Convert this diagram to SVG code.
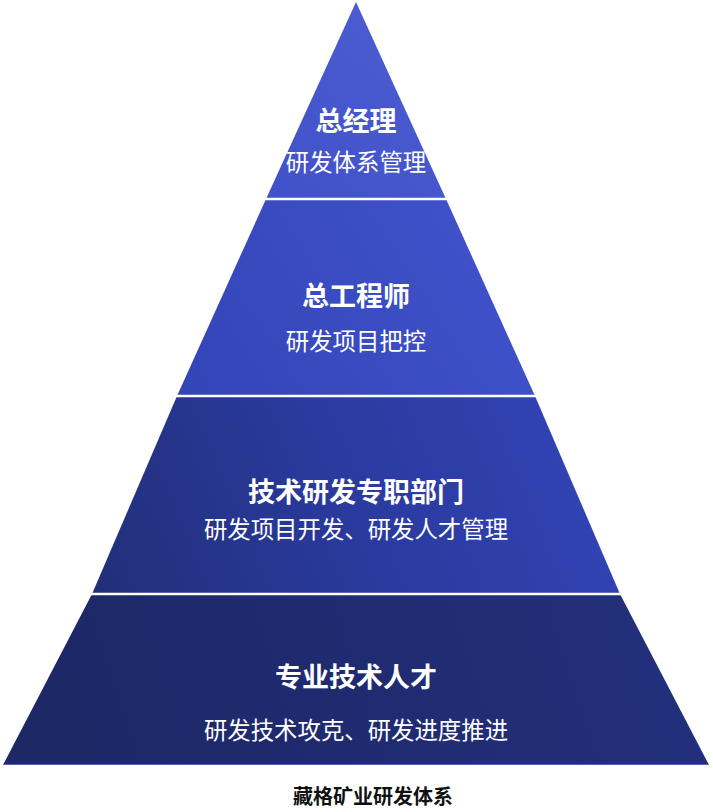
<svg xmlns="http://www.w3.org/2000/svg" width="713" height="812" viewBox="0 0 713 812">
<defs>
<linearGradient id="g1" gradientUnits="userSpaceOnUse" x1="420" y1="20" x2="280" y2="199">
<stop offset="0" stop-color="#4c5dd2"/>
<stop offset="1" stop-color="#4152c8"/>
</linearGradient>
<linearGradient id="g2" gradientUnits="userSpaceOnUse" x1="500" y1="200" x2="200" y2="396">
<stop offset="0" stop-color="#4153cb"/>
<stop offset="1" stop-color="#3445b8"/>
</linearGradient>
<linearGradient id="g3" gradientUnits="userSpaceOnUse" x1="580" y1="400" x2="120" y2="594">
<stop offset="0" stop-color="#3244b6"/>
<stop offset="0.5" stop-color="#2a3a9e"/>
<stop offset="1" stop-color="#22307c"/>
</linearGradient>
<linearGradient id="g4" gradientUnits="userSpaceOnUse" x1="620" y1="595" x2="100" y2="765">
<stop offset="0" stop-color="#222f7a"/>
<stop offset="1" stop-color="#1d2867"/>
</linearGradient>
<style>
.t{font-family:"Noto Sans CJK SC","Noto Sans",sans-serif;font-weight:700;font-size:27px;fill:#ffffff;text-anchor:middle}
.s{font-family:"Noto Sans CJK SC","Noto Sans",sans-serif;font-size:23.4px;fill:#ffffff;text-anchor:middle}
.c{font-family:"Noto Sans CJK SC","Noto Sans",sans-serif;font-weight:700;font-size:20px;fill:#111111;text-anchor:middle}
.sep{stroke:#ffffff;stroke-width:2.5}
</style>
</defs>
<g id="level1">
<polygon points="356,2 446,199 266,199" fill="url(#g1)"/>
<text class="t" x="356" y="131">总经理</text>
<text class="s" x="356" y="171">研发体系管理</text>
</g>
<g id="level2">
<polygon points="266,199 446,199 535,396 177,396" fill="url(#g2)"/>
<text class="t" x="356" y="306">总工程师</text>
<text class="s" x="356" y="350">研发项目把控</text>
</g>
<g id="level3">
<polygon points="177,396 535,396 620,594 92,594" fill="url(#g3)"/>
<text class="t" x="356" y="502">技术研发专职部门</text>
<text class="s" x="356" y="538">研发项目开发、研发人才管理</text>
</g>
<g id="level4">
<polygon points="92,594 620,594 709,765 3,765" fill="url(#g4)"/>
<line x1="4" y1="764.5" x2="708" y2="764.5" stroke="#5566b8" stroke-width="1"/>
<text class="t" x="356" y="687">专业技术人才</text>
<text class="s" x="356" y="739">研发技术攻克、研发进度推进</text>
</g>
<g id="connectors">
<line class="sep" x1="260" y1="199" x2="452" y2="199"/>
<line class="sep" x1="170" y1="396" x2="542" y2="396"/>
<line class="sep" x1="85" y1="594" x2="627" y2="594"/>
</g>
<g id="caption">
<text class="c" x="373" y="804">藏格矿业研发体系</text>
</g>
</svg>
